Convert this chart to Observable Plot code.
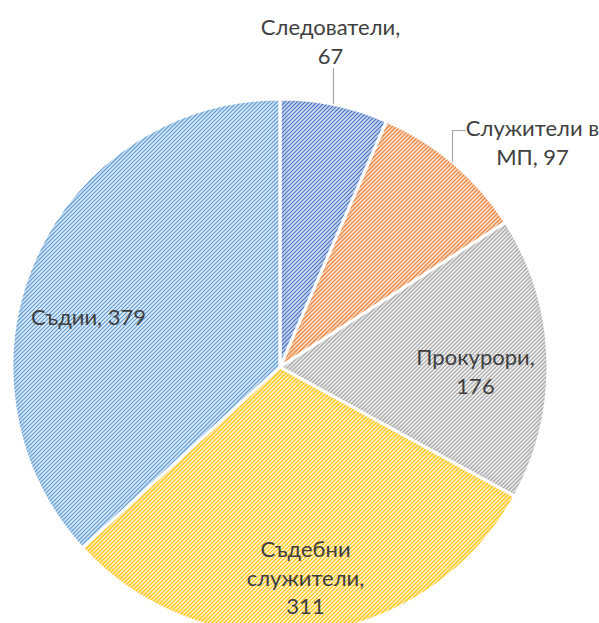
<!DOCTYPE html>
<html><head><meta charset="utf-8">
<script src="https://cdn.jsdelivr.net/npm/d3@7"></script>
<script src="https://cdn.jsdelivr.net/npm/@observablehq/plot@0.6"></script>
<style>html,body{margin:0;padding:0;background:#fff}</style>
</head><body><div id="chart"></div>
<script>
// ---- data ----
const categories = ["Следователи", "Служители в МП", "Прокурори", "Съдебни служители", "Съдии"];
const values = [67, 97, 176, 311, 379];
const labelTexts = ["Следователи,\n67", "Служители в\nМП, 97", "Прокурори,\n176", "Съдебни\nслужители,\n311", "Съдии, 379"];
// ---- styles ----
const colors = ["#4472C4", "#ED7D31", "#A5A5A5", "#FFC000", "#5B9BD5"];
const tints  = ["#dde5f5", "#fce8da", "#f0f0f0", "#fff4d2", "#e2edf8"];
// ---- layout ----
const W = 599, H = 623;
const center = {x: 280, y: 367}, radius = 268;
const labelX = [330, 532, 475, 305, 88];
const labelY = [40, 141, 370, 576, 315];
const leaders = [
  {k: 0, x: 333, y: 68}, {k: 0, x: 333, y: 103},
  {k: 1, x: 465, y: 130}, {k: 1, x: 452, y: 130}, {k: 1, x: 452, y: 161}
];

const data = categories.map((c, i) => ({category: c, value: values[i], label: labelTexts[i], i}));
const labels = data.map((d, i) => ({...d, lx: labelX[i], ly: labelY[i]}));
const arcs = d3.pie().sort(null).value(d => d.value)(data);

function pieMark(index, scales) {
  const sx = scales.x, sy = scales.y;
  const R = sx(center.x + radius) - sx(center.x);
  const g = d3.create("svg:g").attr("transform", `translate(${sx(center.x)},${sy(center.y)})`);
  const defs = g.append("defs");
  const arcGen = d3.arc().innerRadius(0).outerRadius(R);
  defs.append("filter").attr("id", "glowblur").attr("x", "-20%").attr("y", "-20%").attr("width", "140%").attr("height", "140%")
    .append("feGaussianBlur").attr("stdDeviation", 3);
  arcs.forEach((a, i) => {
    const p = defs.append("pattern").attr("id", "hatch" + i).attr("patternUnits", "userSpaceOnUse")
      .attr("width", 4).attr("height", 4);
    p.append("rect").attr("width", 4).attr("height", 4).attr("fill", tints[i]);
    p.append("path").attr("d", "M-1,1 l2,-2 M0,4 l4,-4 M3,5 l2,-2")
      .attr("stroke", colors[i]).attr("stroke-width", 1.15);
    defs.append("clipPath").attr("id", "clip" + i).append("path").attr("d", arcGen(a));
  });
  arcs.forEach((a, i) => {
    const d = arcGen(a);
    g.append("path").attr("d", d).attr("fill", `url(#hatch${i})`);
    g.append("path").attr("d", d).attr("fill", "none").attr("stroke", colors[i])
      .attr("stroke-width", 10).attr("stroke-opacity", 0.25)
      .attr("filter", "url(#glowblur)").attr("clip-path", `url(#clip${i})`);
  });
  arcs.forEach((a, i) => {
    g.append("path").attr("d", arcGen(a)).attr("fill", "none")
      .attr("stroke", "#fff").attr("stroke-width", 3).attr("stroke-linejoin", "round");
  });
  return g.node();
}

const chart = Plot.plot({
  width: W, height: H, margin: 0,
  x: {domain: [0, W], range: [0, W], axis: null},
  y: {domain: [0, H], range: [0, H], axis: null},
  style: {background: "#fff"},
  marks: [
    pieMark,
    Plot.line(leaders, {x: "x", y: "y", z: "k", stroke: "#a6a6a6", strokeWidth: 1.2}),
    Plot.text(labels, {x: "lx", y: "ly", text: "label", fill: "#404040",
      fontSize: 22, fontFamily: "Lato, 'Noto Sans', sans-serif", lineHeight: 1.28, textAnchor: "middle"})
  ]
});
document.getElementById("chart").appendChild(chart);
</script>
</body></html>
